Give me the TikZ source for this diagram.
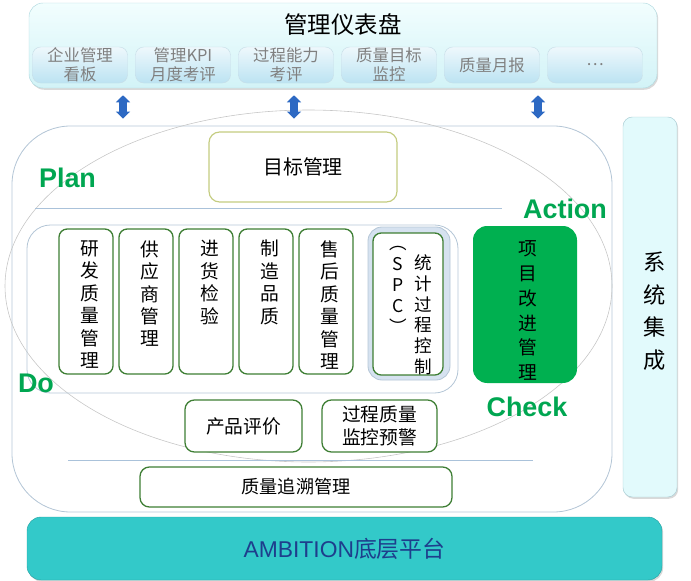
\documentclass[tikz,border=0pt]{standalone}
\usepackage{fontspec}
\setmainfont{Noto Sans CJK SC}
\newfontfamily\latinfont{Liberation Sans}
\usetikzlibrary{arrows.meta, positioning, shadows}

\definecolor{pdcagreen}{RGB}{0,166,81}
\definecolor{colgreen}{RGB}{62,126,52}
\definecolor{framegray}{RGB}{180,198,214}
\definecolor{linegray}{RGB}{170,194,218}
\definecolor{dashtop}{RGB}{242,254,254}
\definecolor{dashbottom}{RGB}{210,243,247}
\definecolor{dashborder}{RGB}{178,218,224}
\definecolor{tabtop}{RGB}{238,248,252}
\definecolor{tabbottom}{RGB}{188,227,242}
\definecolor{tabborder}{RGB}{200,222,232}
\definecolor{tabtext}{RGB}{128,128,128}
\definecolor{arrowblue}{RGB}{45,105,195}
\definecolor{sidefill}{RGB}{226,250,252}
\definecolor{sideborder}{RGB}{170,205,212}
\definecolor{basefill}{RGB}{51,201,201}
\definecolor{baseborder}{RGB}{40,165,165}
\definecolor{basetext}{RGB}{30,62,140}
\definecolor{goalborder}{RGB}{196,204,128}
\definecolor{actfill}{RGB}{0,176,80}
\definecolor{spcfill}{RGB}{214,226,240}

\newcommand\pxu{0.03cm}

\begin{document}
\begin{tikzpicture}[
        x = 0.03cm, y = -0.03cm,
        every node/.style = {inner sep = 0pt},
        >= {Triangle[width = 12pt, length = 6pt]},
        softshadow/.style = {drop shadow = {shadow xshift = 1pt, shadow yshift = -1.5pt, opacity = .3}},
        panel/.style = {draw = dashborder, rounded corners = 12pt, top color = dashtop, bottom color = dashbottom, softshadow},
        tab/.style = {draw = tabborder, rounded corners = 7pt, top color = tabtop, bottom color = tabbottom,
                      text = tabtext, align = center, font = \fontsize{14}{16}\selectfont,
                      minimum width = 95*\pxu, minimum height = 36*\pxu},
        col/.style = {draw = colgreen, line width = 1.1pt, rounded corners = 7pt, fill = white,
                      minimum width = 54*\pxu, minimum height = 145*\pxu},
        coltext/.style = {anchor = north, align = center, font = \fontsize{16}{19.2}\selectfont},
        card/.style = {draw = colgreen, line width = 1.1pt, rounded corners = 8pt, fill = white,
                       align = center, font = \fontsize{16}{19.5}\selectfont},
        pdca/.style = {text = pdcagreen, font = \latinfont\bfseries\fontsize{23}{23}\selectfont},
        dblarrow/.style = {<->, line width = 6pt, draw = arrowblue, shorten <= 6pt, shorten >= 6pt},
        frame/.style = {draw = framegray, line width = .7pt}
    ]

      \useasboundingbox (0,0) rectangle (691,581);

      % quality platform frame and PDCA ring
      \node[frame, rounded corners = 50pt, minimum width = 600*\pxu, minimum height = 386*\pxu] (main) at (312,319) {};
      \draw[gray!45, line width = .5pt] (308.5,286) ellipse [x radius = 303.5, y radius = 176];
      \draw[linegray] (35,208) -- (502,208);
      \draw[linegray] (68,460) -- (533,460);

      % dashboard
      \node[panel, minimum width = 628*\pxu, minimum height = 85*\pxu] (dash) at (343,45.5) {};
      \node[font = \fontsize{20}{20}\selectfont] (dashtitle) at (343,24) {管理仪表盘};

      \begin{scope}[node distance = 103*\pxu, on grid]
        \node[tab] (board)   at (80,65)          {企业管理\\看板};
        \node[tab] (kpi)     [right = of board]  {管理KPI\\月度考评};
        \node[tab] (ability) [right = of kpi]    {过程能力\\考评};
        \node[tab] (target)  [right = of ability] {质量目标\\监控};
        \node[tab] (monthly) [right = of target] {质量月报};
        \node[tab] (more)    [right = of monthly] {…};
      \end{scope}

      \coordinate (a1) at (123,0);
      \coordinate (a2) at (294,0);
      \coordinate (a3) at (538,0);
      \draw[dblarrow] (dash.south -| a1) -- (main.north -| a1);
      \draw[dblarrow] (dash.south -| a2) -- (main.north -| a2);
      \draw[dblarrow] (dash.south -| a3) -- (main.north -| a3);

      % system integration
      \node[draw = sideborder, fill = sidefill, rounded corners = 8pt, softshadow,
            minimum width = 54*\pxu, minimum height = 380*\pxu] (side) at (650,307) {};
      \node[align = center, font = \fontsize{19}{27.8}\selectfont] (sidetext) at (655,311) {系\\统\\集\\成};

      % plan
      \node[draw = goalborder, line width = 1pt, rounded corners = 9pt, fill = white,
            minimum width = 188*\pxu, minimum height = 70*\pxu, font = \fontsize{17}{17}\selectfont] (goal) at (303,167) {目标管理};

      % do
      \node[frame, rounded corners = 20pt, minimum width = 431*\pxu, minimum height = 168*\pxu] (dogroup) at (242.5,309) {};

      \begin{scope}[node distance = 60*\pxu, on grid]
        \node[col] (rd)        at (86,301.5)        {};
        \node[col] (supplier)  [right = of rd]        {};
        \node[col] (incoming)  [right = of supplier]  {};
        \node[col] (manuf)     [right = of incoming]  {};
        \node[col] (aftersale) [right = of manuf]     {};
      \end{scope}

      \node[coltext] (rdtext)        at ([xshift = 3pt, yshift = -10pt]rd.north)        {研\\发\\质\\量\\管\\理};
      \node[coltext] (suppliertext)  at ([xshift = 3pt, yshift = -10pt]supplier.north)  {供\\应\\商\\管\\理};
      \node[coltext] (incomingtext)  at ([xshift = 3pt, yshift = -10pt]incoming.north)  {进\\货\\检\\验};
      \node[coltext] (manuftext)     at ([xshift = 3pt, yshift = -10pt]manuf.north)     {制\\造\\品\\质};
      \node[coltext] (aftersaletext) at ([xshift = 3pt, yshift = -10pt]aftersale.north) {售\\后\\质\\量\\管\\理};

      \node[frame, fill = spcfill, rounded corners = 12pt, minimum width = 82*\pxu, minimum height = 153*\pxu] (spcouter) at (409,303.5) {};
      \node[col, minimum width = 70*\pxu, minimum height = 142*\pxu] (spc) at (408,304) {};
      \node[coltext, font = \fontsize{15}{17.9}\selectfont] (spcabbr) at (398,246) {︵\\S\\P\\C\\︶};
      \node[coltext, font = \fontsize{15}{17.9}\selectfont] (spcname) at (423,254) {统\\计\\过\\程\\控\\制};

      % action
      \node[fill = actfill, rounded corners = 12pt, minimum width = 104*\pxu, minimum height = 157*\pxu] (improve) at (525,304.5) {};
      \node[coltext, font = \fontsize{16}{21.3}\selectfont] (improvetext) at (528,240) {项\\目\\改\\进\\管\\理};

      % check
      \node[card, minimum width = 117*\pxu, minimum height = 52*\pxu] (evaluate) at (243.5,426) {产品评价};
      \node[card, minimum width = 115*\pxu, minimum height = 52*\pxu] (warning)  at (379.5,426) {过程质量\\监控预警};
      \node[card, minimum width = 312*\pxu, minimum height = 40*\pxu, font = \fontsize{15.5}{15.5}\selectfont] (trace) at (296,487) {质量追溯管理};

      % platform
      \node[fill = basefill, draw = baseborder, rounded corners = 12pt, softshadow,
            minimum width = 635*\pxu, minimum height = 63*\pxu, text = basetext,
            font = \fontsize{19.5}{19.5}\selectfont] (base) at (344.5,548.5) {{\latinfont AMBITION}底层平台};

      \node[pdca] (plan)   at (67.5,178) {Plan};
      \node[pdca] (action) at (565,208.5) {Action};
      \node[pdca] (do)     at (36,383)    {Do};
      \node[pdca] (check)  at (527,407)   {Check};

    \end{tikzpicture}
\end{document}
